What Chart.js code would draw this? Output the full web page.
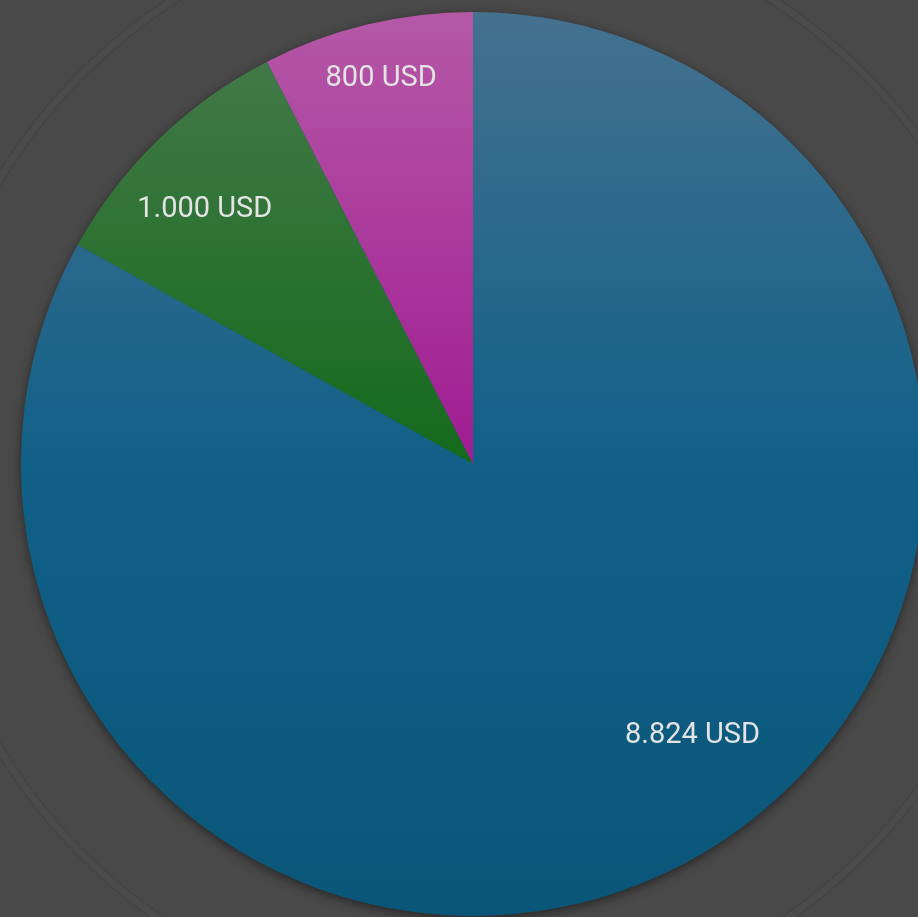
<!DOCTYPE html>
<html>
<head>
<meta charset="utf-8">
<script src="https://cdn.jsdelivr.net/npm/chart.js@4/dist/chart.umd.min.js"></script>
<style>
html,body{margin:0;padding:0;overflow:hidden;background:#494949;width:918px;height:917px;}
#wrap{position:absolute;left:0;top:0;width:940px;height:917px;}
</style>
</head>
<body>
<div id="wrap"><canvas id="c" width="940" height="917"></canvas></div>
<script>
const categories = ["A", "B", "C"];
const values = [8824, 1000, 800];
const valueLabels = ["8.824 USD", "1.000 USD", "800 USD"];
const topColors = ["#44718f", "#487b4c", "#b558a7"];
const midColors = ["#116088", "#146a1c", "#a01c92"];
const bottomColors = ["#0a5679", "#106018", "#901888"];
const labelAngleShift = [-8.6, -2.3, 0.2];
const labelRadiusFrac = [0.77, 0.82, 0.88];

const bgPlugin = {
  id: 'bg',
  beforeDraw(chart) {
    const ctx = chart.ctx;
    const meta = chart.getDatasetMeta(0);
    if (!meta.data.length) return;
    const arc = meta.data[0];
    const cx = arc.x, cy = arc.y, R = arc.outerRadius;
    ctx.save();
    ctx.fillStyle = '#494949';
    ctx.fillRect(0, 0, chart.width, chart.height);
    const rr = R * 1.222;
    ctx.beginPath(); ctx.arc(cx, cy, rr, 0, Math.PI * 2);
    ctx.strokeStyle = 'rgba(255,255,255,0.015)'; ctx.lineWidth = 8; ctx.stroke();
    ctx.beginPath(); ctx.arc(cx, cy, rr - 4, 0, Math.PI * 2);
    ctx.strokeStyle = 'rgba(0,0,0,0.07)'; ctx.lineWidth = 1.5; ctx.stroke();
    ctx.beginPath(); ctx.arc(cx, cy, rr + 4, 0, Math.PI * 2);
    ctx.strokeStyle = 'rgba(0,0,0,0.07)'; ctx.lineWidth = 1.5; ctx.stroke();
    ctx.restore();
  },
  beforeDatasetsDraw(chart) {
    const ctx = chart.ctx;
    const arc = chart.getDatasetMeta(0).data[0];
    if (!arc) return;
    ctx.save();
    ctx.shadowColor = 'rgba(0,0,0,0.55)';
    ctx.shadowBlur = 12;
    ctx.shadowOffsetY = 3;
    ctx.beginPath(); ctx.arc(arc.x, arc.y, arc.outerRadius - 1, 0, Math.PI * 2);
    ctx.fillStyle = '#0a5a80';
    ctx.fill();
    ctx.restore();
  },
  afterDatasetsDraw(chart) {
    const ctx = chart.ctx;
    const meta = chart.getDatasetMeta(0);
    ctx.save();
    ctx.font = '29px Roboto';
    ctx.fillStyle = '#e4e4e4';
    ctx.textAlign = 'center';
    ctx.textBaseline = 'middle';
    meta.data.forEach((a, i) => {
      const mid = (a.startAngle + a.endAngle) / 2 + labelAngleShift[i] * Math.PI / 180;
      const r = a.outerRadius * labelRadiusFrac[i];
      ctx.fillText(valueLabels[i], a.x + Math.cos(mid) * r, a.y + Math.sin(mid) * r + 2);
    });
    ctx.restore();
  }
};

new Chart(document.getElementById('c'), {
  type: 'pie',
  data: {
    labels: categories,
    datasets: [{
      data: values,
      borderWidth: 0,
      backgroundColor: (ctx) => {
        const chart = ctx.chart;
        const area = chart.chartArea;
        const i = ctx.dataIndex;
        if (!area) return midColors[i];
        const g = chart.ctx.createLinearGradient(0, area.top, 0, area.bottom);
        g.addColorStop(0, topColors[i]);
        g.addColorStop(0.5, midColors[i]);
        g.addColorStop(1, bottomColors[i]);
        return g;
      }
    }]
  },
  options: {
    responsive: false,
    animation: false,
    layout: { padding: { left: 21, right: 15, top: 12, bottom: 1 } },
    plugins: { legend: { display: false }, tooltip: { enabled: false } }
  },
  plugins: [bgPlugin]
});
</script>
</body>
</html>
